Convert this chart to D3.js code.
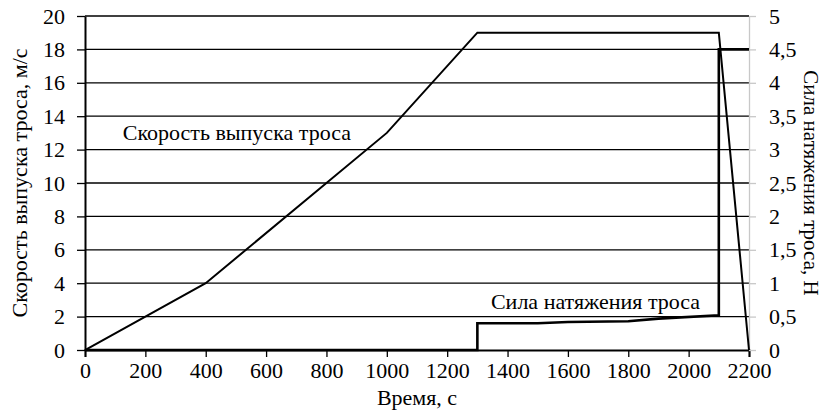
<!DOCTYPE html>
<html>
<head>
<meta charset="utf-8">
<script src="https://cdn.jsdelivr.net/npm/d3@7"></script>
<style>
  body { margin: 0; background: #fff; }
</style>
</head>
<body>
<div id="chart"></div>
<script>
// speed of tether release, m/s (left axis)
var speedTime = [0, 400, 1000, 1300, 2100, 2200];
var speedValue = [0, 4, 13, 19, 19, 0];

// tether tension, N (right axis)
var forceTime = [0, 1300, 1300, 1500, 1600, 1800, 1900, 2100, 2100, 2200];
var forceValue = [0, 0, 0.4, 0.4, 0.42, 0.43, 0.47, 0.52, 4.5, 4.5];

var xTicks = [0, 200, 400, 600, 800, 1000, 1200, 1400, 1600, 1800, 2000, 2200];
var leftTicks = [0, 2, 4, 6, 8, 10, 12, 14, 16, 18, 20];
var rightTicks = [0, 0.5, 1, 1.5, 2, 2.5, 3, 3.5, 4, 4.5, 5];

var FONT = "'Liberation Serif', 'Times New Roman', serif";
var FS = "22px";

var margin = {top: 16, right: 78, bottom: 67, left: 85};
var width = 827 - margin.left - margin.right,
    height = 417 - margin.top - margin.bottom;

var x = d3.scaleLinear().domain([0, 2200]).range([0, width]),
    yL = d3.scaleLinear().domain([0, 20]).range([height, 0]),
    yR = d3.scaleLinear().domain([0, 5]).range([height, 0]);

var svg = d3.select("#chart").append("svg")
    .attr("width", 827)
    .attr("height", 417);

var g = svg.append("g")
    .attr("transform", "translate(" + margin.left + "," + margin.top + ")");

// horizontal grid
g.append("g").selectAll("line")
    .data(leftTicks.slice(1))
    .enter().append("line")
    .attr("x1", 0).attr("x2", width)
    .attr("y1", function(d) { return yL(d); })
    .attr("y2", function(d) { return yL(d); })
    .attr("stroke", "#000")
    .attr("stroke-width", 1.3);

var xAxis = g.append("g")
    .attr("transform", "translate(0," + height + ")")
    .call(d3.axisBottom(x).tickValues(xTicks).tickSize(7).tickPadding(5).tickFormat(d3.format("d")));
xAxis.select(".domain").attr("stroke-width", 2);
xAxis.selectAll(".tick line").attr("stroke-width", 1.3);

var leftAxis = g.append("g")
    .call(d3.axisLeft(yL).tickValues(leftTicks).tickSize(8).tickPadding(12).tickSizeOuter(0));
leftAxis.select(".domain").attr("stroke-width", 2);
leftAxis.selectAll(".tick line").attr("stroke-width", 1.3);

var commaFmt = function(d) { return String(d).replace(".", ","); };
var rightAxis = g.append("g")
    .attr("transform", "translate(" + width + ",0)")
    .call(d3.axisRight(yR).tickValues(rightTicks).tickSize(7).tickPadding(13).tickSizeOuter(0).tickFormat(commaFmt));
rightAxis.select(".domain").attr("stroke", "#c8c8c8").attr("stroke-width", 1.3);
rightAxis.selectAll(".tick line").attr("stroke", "#c8c8c8").attr("stroke-width", 1.3);

var speedLine = d3.line()
    .x(function(d, i) { return x(speedTime[i]); })
    .y(function(d) { return yL(d); });

var forceLine = d3.line()
    .x(function(d, i) { return x(forceTime[i]); })
    .y(function(d) { return yR(d); });

g.append("path")
    .datum(forceValue)
    .attr("fill", "none")
    .attr("stroke", "#000")
    .attr("stroke-width", 2.6)
    .attr("d", forceLine);

g.append("path")
    .datum(speedValue)
    .attr("fill", "none")
    .attr("stroke", "#000")
    .attr("stroke-width", 2)
    .attr("d", speedLine);

// series labels
g.append("text")
    .attr("x", x(125)).attr("y", yL(12.6))
    .text("Скорость выпуска троса");

g.append("text")
    .attr("x", x(1345)).attr("y", yR(0.62))
    .text("Сила натяжения троса");

// axis titles
svg.append("text")
    .attr("transform", "translate(27," + (margin.top + height / 2) + ") rotate(-90)")
    .attr("text-anchor", "middle")
    .text("Скорость выпуска троса, м/с");

svg.append("text")
    .attr("class", "rtitle")
    .attr("transform", "translate(804," + (margin.top + height / 2) + ") rotate(90)")
    .attr("text-anchor", "middle")
    .text("Сила натяжения троса, Н");

svg.append("text")
    .attr("x", margin.left + width / 2)
    .attr("y", 405)
    .attr("text-anchor", "middle")
    .text("Время, с");

// serif font everywhere (axis groups default to sans-serif)
svg.selectAll("g").attr("font-family", null).attr("font-size", null);
svg.selectAll("text")
    .style("font-family", FONT)
    .style("font-size", FS)
    .attr("fill", "#000");
svg.select(".rtitle").style("font-size", "21px");
</script>
</body>
</html>
